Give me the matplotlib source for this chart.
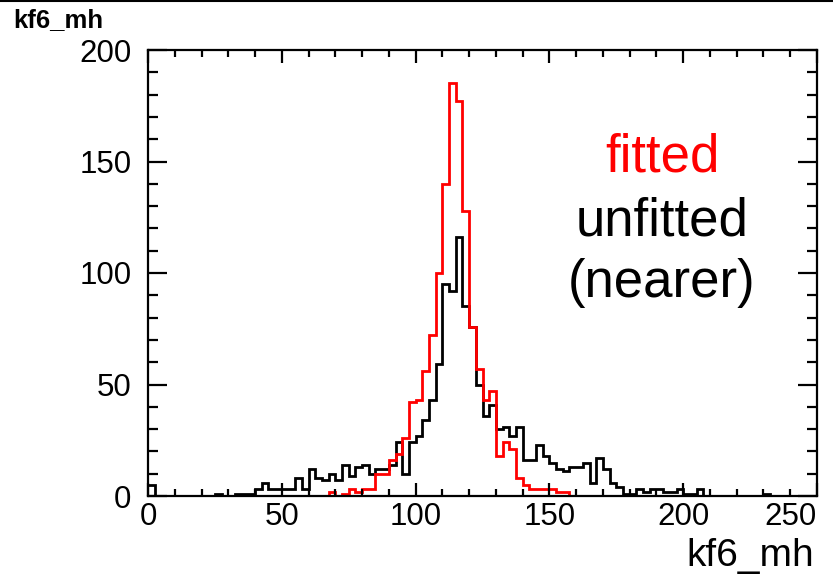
import numpy as np
import matplotlib
matplotlib.use('Agg')
import matplotlib.pyplot as plt
from matplotlib.ticker import MultipleLocator
from matplotlib.lines import Line2D

plt.rcParams['font.family'] = ['Liberation Sans', 'DejaVu Sans']

# ---- data ----
x_min, x_max, n_bins = 0, 250, 100

unfitted = [5, 0, 0, 0, 0, 0, 0, 0, 0, 0,
            1, 0, 0, 1, 1, 1, 3, 6, 3, 3,
            3, 3, 8, 3, 12, 8, 7, 10, 7, 14,
            9, 13, 14, 10, 12, 12, 14, 24, 10, 24,
            27, 34, 43, 59, 95, 92, 116, 85, 76, 50,
            36, 41, 30, 31, 27, 31, 16, 16, 23, 18,
            15, 12, 11, 13, 13, 15, 6, 17, 12, 6,
            4, 1, 1, 3, 2, 3, 3, 2, 2, 3,
            1, 1, 3, 0, 0, 0, 0, 0, 0, 0,
            0, 0, 1, 0, 0, 0, 0, 0, 0, 0]

fitted = [0, 0, 0, 0, 0, 0, 0, 0, 0, 0,
          0, 0, 0, 0, 0, 0, 0, 0, 0, 0,
          0, 0, 0, 0, 0, 0, 0, 2, 0, 1,
          3, 2, 3, 3, 10, 10, 16, 19, 26, 42,
          43, 56, 72, 100, 140, 185, 177, 128, 76, 57,
          43, 47, 18, 24, 21, 8, 5, 3, 3, 3,
          3, 2, 2, 0, 0, 0, 0, 0, 0, 0,
          0, 0, 0, 0, 0, 0, 0, 0, 0, 0,
          0, 0, 0, 0, 0, 0, 0, 0, 0, 0,
          0, 0, 0, 0, 0, 0, 0, 0, 0, 0]

x_ticks = [0, 50, 100, 150, 200, 250]
y_ticks = [0, 50, 100, 150, 200]
title = "kf6_mh"
x_label = "kf6_mh"
legend_lines = [("fitted", "red"), ("unfitted", "black"), ("(nearer)", "black")]

# ---- plot ----
W, H = 833, 583
fig = plt.figure(figsize=(W / 100, H / 100), dpi=100)
ax = fig.add_axes([148 / W, 1 - 496 / H, (817 - 148) / W, (496 - 50) / H])

edges = np.linspace(x_min, x_max, n_bins + 1)
ax.stairs(unfitted, edges, color='black', lw=2.0, baseline=None)
ax.stairs(fitted, edges, color='red', lw=2.0, baseline=None)

ax.set_xlim(x_min, x_max)
ax.set_ylim(0, 200)
ax.set_xticks(x_ticks)
ax.set_yticks(y_ticks)
ax.xaxis.set_minor_locator(MultipleLocator(10))
ax.yaxis.set_minor_locator(MultipleLocator(10))

for s in ax.spines.values():
    s.set_linewidth(1.6)

ax.tick_params(axis='both', which='both', direction='in', top=True, right=True,
               width=1.6, labelsize=22.5)
ax.tick_params(axis='y', which='major', length=13.5, pad=12)
ax.tick_params(axis='y', which='minor', length=7)
ax.tick_params(axis='x', which='major', length=9.5, pad=4.5)
ax.tick_params(axis='x', which='minor', length=5)

fig.canvas.draw()
labs = ax.get_xticklabels()
labs[-1].set_horizontalalignment('right')
labs[-1].set_x(250)

fig.text(13 / W, 1 - 27 / H, title, fontsize=18.5, fontweight='bold',
         ha='left', va='baseline')
fig.text(814 / W, 1 - 566 / H, x_label, fontsize=28, ha='right', va='baseline')

cx = 662 / W
baselines = [172, 236, 297]
for (txt, col), yb in zip(legend_lines, baselines):
    fig.text(cx, 1 - yb / H, txt, color=col, fontsize=38, ha='center', va='baseline')

fig.add_artist(Line2D([0, 1], [1 - 1 / H, 1 - 1 / H], color='black', lw=1.5,
                      transform=fig.transFigure))

fig.savefig('out.png', dpi=100)
